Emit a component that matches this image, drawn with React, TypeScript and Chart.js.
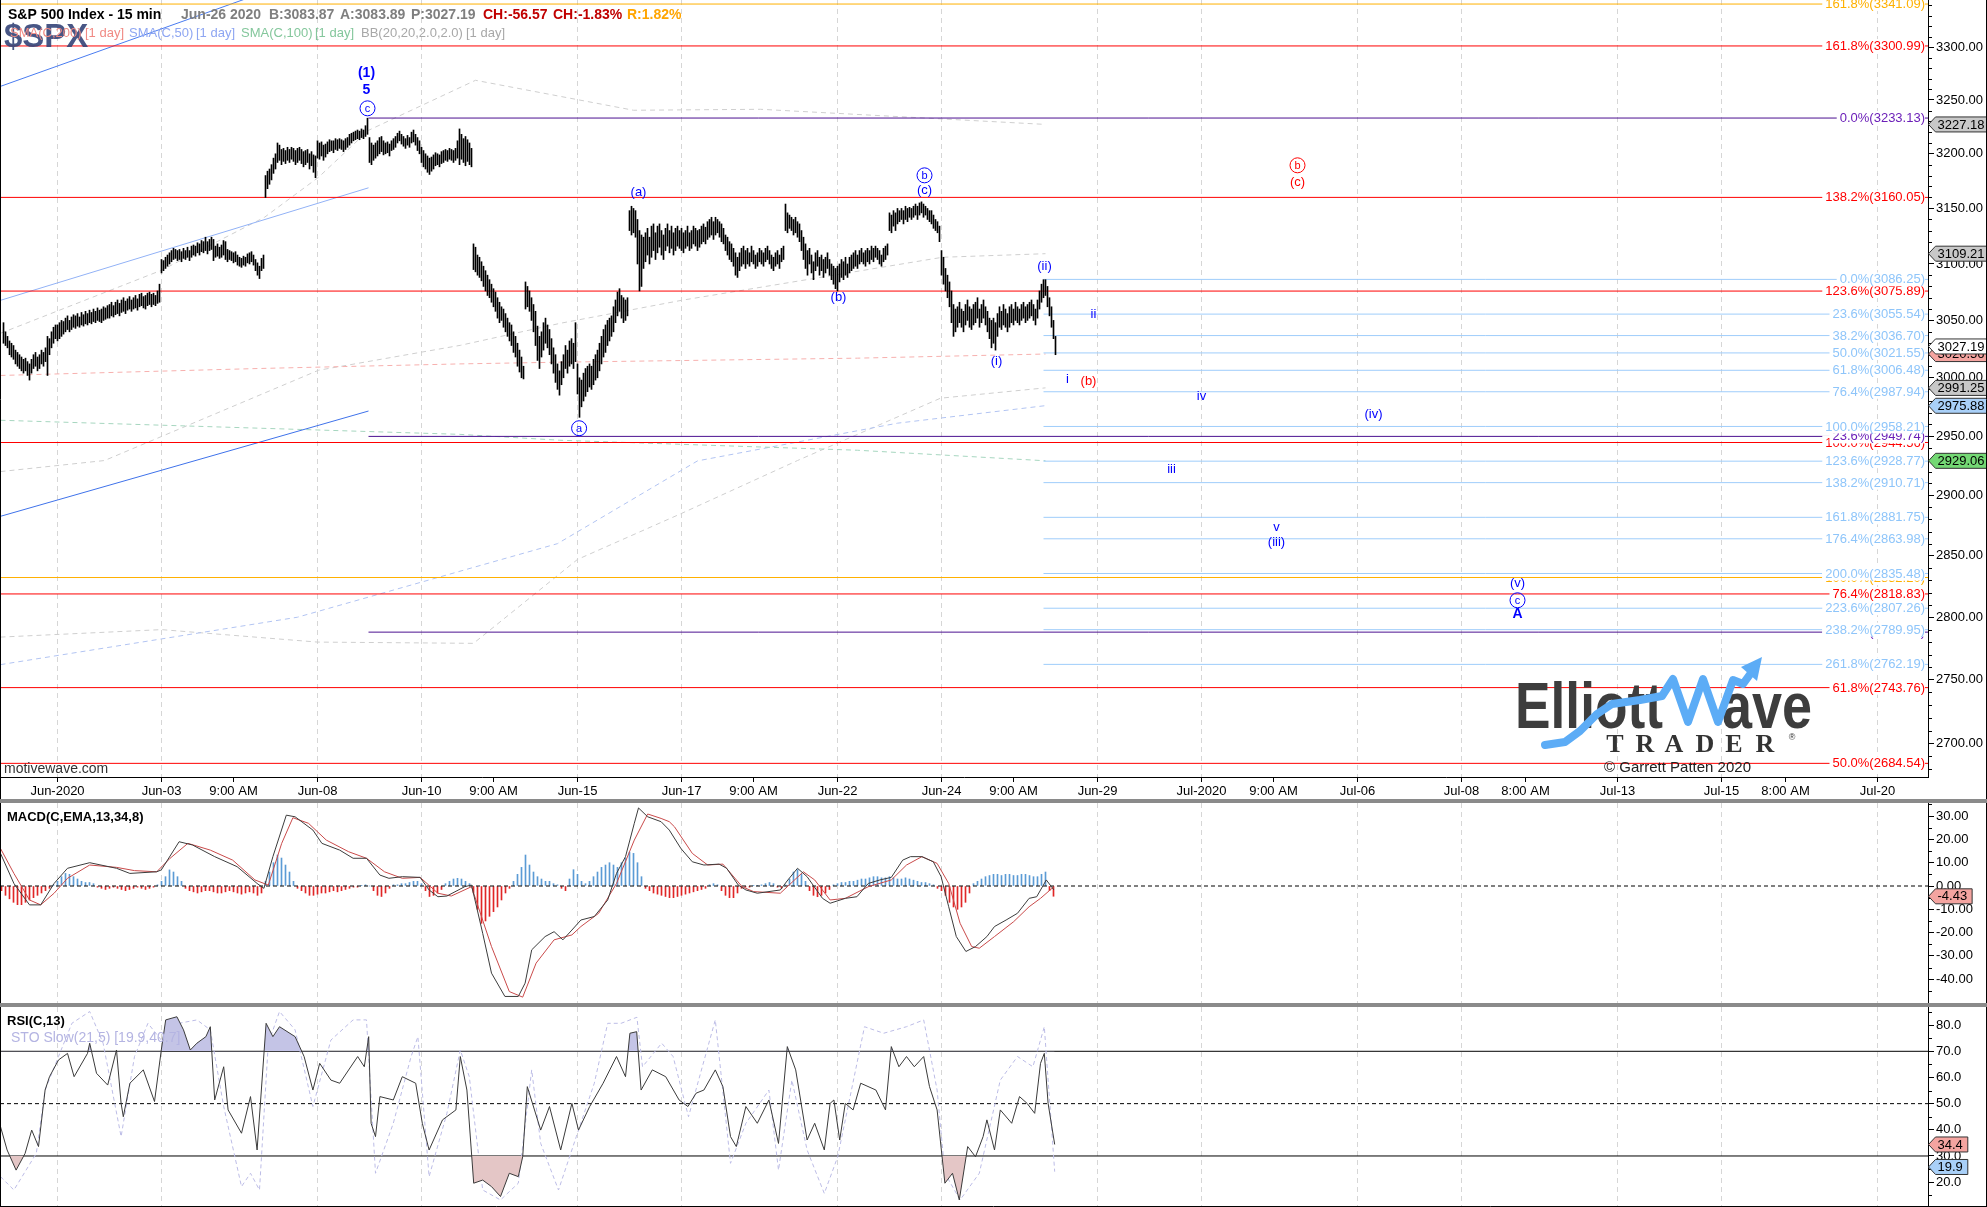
import React, { useEffect, useRef } from 'react';
import { Chart, registerables } from 'chart.js';

Chart.register(...registerables);

const FULL_W = 1987;
const AXIS_W = 59;
const PLOT_R = FULL_W - AXIS_W;
const MAIN_H = 799;
const MACD_TOP = 803;
const MACD_H = 200;
const RSI_TOP = 1007;
const RSI_H = 200;
const SANS = '"Liberation Sans", Arial, Helvetica, sans-serif';
const SERIF = '"Liberation Serif", "Times New Roman", serif';

// ---------- time axis (bar index: 26 fifteen-minute bars per session, 0 = Jun 1 open) ----------
const X_MIN = -28.75;
const X_MAX = 935.25;
const xTickBars = [0, 52, 88, 130, 182, 218, 260, 312, 348, 390, 442, 478, 520, 572, 608, 650, 702, 734, 780, 832, 864, 910];
const xTickLabels = ['Jun-2020', 'Jun-03', '9:00 AM', 'Jun-08', 'Jun-10', '9:00 AM', 'Jun-15', 'Jun-17', '9:00 AM', 'Jun-22', 'Jun-24', '9:00 AM', 'Jun-29', 'Jul-2020', '9:00 AM', 'Jul-06', 'Jul-08', '8:00 AM', 'Jul-13', 'Jul-15', '8:00 AM', 'Jul-20'];
const priceTicks = [2700, 2750, 2800, 2850, 2900, 2950, 3000, 3050, 3100, 3150, 3200, 3250, 3300];
const macdTicks = [-40, -30, -20, -10, 0, 10, 20, 30];
const rsiTicks = [20, 30, 40, 50, 60, 70, 80];

// ---------- price bars [low, high] per session ----------
const sessionOpenBar = [-27, 0, 26, 52, 78, 104, 130, 156, 182, 208, 234, 260, 286, 312, 338, 364, 390, 416, 442, 468, 494];
const may29 = [[3030,3048],[3028,3040],[3026,3036],[3020,3032],[3018,3030],[3016,3028],[3012,3024],[3010,3022],[3008,3020],[3006,3018],[3004,3016],[3006,3017],[3002,3014],[2998,3012],[3004,3016],[3008,3020],[3010,3022],[3006,3018],[3008,3020],[3012,3024],[3010,3022],[3014,3026],[3002,3036],[3020,3034],[3026,3040],[3030,3044],[3034,3046]];
const jun01 = [[3032,3046],[3034,3048],[3036,3050],[3038,3049],[3040,3052],[3042,3054],[3040,3050],[3042,3053],[3044,3055],[3043,3054],[3045,3056],[3044,3053],[3046,3057],[3045,3055],[3047,3058],[3046,3056],[3048,3059],[3047,3057],[3049,3060],[3048,3058],[3050,3061],[3049,3059],[3048,3060],[3050,3062],[3051,3061],[3052,3063]];
const jun02 = [[3052,3064],[3054,3066],[3053,3063],[3055,3066],[3056,3068],[3054,3065],[3057,3068],[3058,3070],[3056,3067],[3059,3069],[3060,3071],[3058,3068],[3060,3070],[3061,3072],[3059,3069],[3062,3073],[3063,3074],[3061,3071],[3060,3072],[3063,3074],[3064,3075],[3062,3073],[3064,3074],[3063,3072],[3065,3076],[3066,3082]];
const jun03 = [[3092,3104],[3094,3103],[3096,3106],[3098,3108],[3100,3110],[3102,3112],[3104,3114],[3105,3113],[3103,3112],[3104,3113],[3102,3111],[3105,3114],[3104,3112],[3106,3115],[3103,3112],[3106,3116],[3108,3117],[3107,3116],[3110,3119],[3108,3118],[3111,3121],[3110,3120],[3112,3124],[3109,3120],[3112,3122],[3113,3124]];
const jun04 = [[3103,3122],[3106,3116],[3107,3118],[3105,3115],[3106,3117],[3108,3121],[3104,3120],[3102,3113],[3104,3112],[3103,3111],[3101,3110],[3102,3111],[3099,3108],[3098,3106],[3097,3105],[3099,3107],[3098,3106],[3101,3109],[3100,3110],[3102,3111],[3099,3108],[3094,3104],[3090,3101],[3087,3098],[3094,3105],[3096,3108]];
const jun05 = [[3160,3180],[3168,3184],[3172,3186],[3176,3190],[3182,3196],[3186,3200],[3192,3210],[3194,3208],[3190,3204],[3193,3205],[3191,3203],[3194,3206],[3192,3204],[3195,3206],[3193,3205],[3190,3203],[3192,3205],[3194,3206],[3191,3204],[3188,3202],[3190,3203],[3192,3204],[3186,3200],[3189,3202],[3183,3199],[3178,3198]];
const jun08 = [[3196,3212],[3195,3210],[3198,3211],[3194,3208],[3197,3209],[3200,3211],[3202,3213],[3203,3212],[3201,3212],[3204,3214],[3203,3213],[3205,3214],[3204,3213],[3202,3212],[3204,3214],[3206,3215],[3208,3218],[3210,3219],[3212,3220],[3213,3221],[3214,3222],[3213,3221],[3215,3223],[3214,3222],[3216,3226],[3218,3233]];
const jun09 = [[3192,3215],[3190,3210],[3194,3208],[3196,3210],[3198,3212],[3200,3215],[3202,3216],[3199,3212],[3200,3210],[3201,3211],[3198,3209],[3203,3212],[3204,3214],[3206,3216],[3210,3219],[3212,3221],[3209,3218],[3207,3216],[3205,3214],[3208,3217],[3206,3215],[3210,3220],[3211,3222],[3208,3218],[3203,3215],[3200,3212]];
const jun10 = [[3192,3206],[3188,3203],[3186,3200],[3183,3198],[3181,3196],[3184,3197],[3186,3199],[3189,3201],[3190,3200],[3188,3199],[3191,3202],[3192,3203],[3194,3204],[3193,3203],[3195,3205],[3194,3204],[3192,3203],[3194,3205],[3196,3212],[3190,3223],[3195,3218],[3192,3214],[3189,3216],[3193,3213],[3190,3210],[3188,3205]];
const jun11 = [[3095,3118],[3093,3115],[3090,3108],[3088,3106],[3085,3102],[3080,3098],[3076,3094],[3072,3090],[3070,3086],[3066,3082],[3062,3078],[3058,3075],[3052,3070],[3048,3066],[3050,3062],[3044,3060],[3040,3056],[3036,3052],[3032,3048],[3028,3046],[3022,3040],[3018,3036],[3010,3030],[3005,3024],[3000,3018],[2999,3010]];
const jun12 = [[3060,3084],[3062,3080],[3058,3076],[3050,3070],[3040,3064],[3028,3058],[3015,3045],[3008,3036],[3018,3040],[3024,3048],[3030,3052],[3026,3046],[3020,3042],[3012,3034],[3004,3026],[2996,3020],[2990,3012],[2985,3006],[2994,3014],[3000,3020],[3008,3028],[3004,3024],[3010,3032],[3012,3034],[3008,3030],[3014,3048]];
const jun15 = [[2986,3012],[2966,3000],[2975,2998],[2980,3004],[2984,3008],[2988,3010],[2992,3012],[2990,3010],[2994,3016],[2998,3020],[3000,3024],[3006,3030],[3012,3036],[3018,3042],[3022,3046],[3028,3050],[3032,3052],[3036,3054],[3040,3062],[3048,3068],[3054,3075],[3058,3078],[3052,3072],[3048,3070],[3050,3068],[3054,3070]];
const jun16 = [[3130,3148],[3126,3152],[3128,3150],[3124,3148],[3100,3140],[3076,3130],[3080,3126],[3096,3124],[3102,3128],[3108,3132],[3100,3124],[3106,3134],[3112,3136],[3104,3128],[3110,3134],[3115,3136],[3108,3130],[3104,3126],[3112,3132],[3116,3136],[3110,3130],[3114,3134],[3108,3128],[3112,3132],[3116,3134],[3114,3130]];
const jun17 = [[3112,3132],[3110,3128],[3114,3130],[3116,3134],[3112,3128],[3114,3130],[3118,3134],[3116,3132],[3112,3130],[3115,3131],[3118,3134],[3120,3136],[3118,3133],[3122,3138],[3124,3140],[3126,3142],[3122,3138],[3126,3142],[3128,3140],[3124,3138],[3120,3136],[3118,3132],[3112,3126],[3108,3124],[3104,3120],[3102,3118]];
const jun18 = [[3098,3114],[3090,3110],[3088,3106],[3094,3110],[3098,3114],[3100,3116],[3096,3112],[3100,3114],[3098,3110],[3102,3116],[3100,3112],[3096,3108],[3098,3110],[3102,3114],[3100,3112],[3098,3110],[3102,3114],[3104,3116],[3100,3112],[3096,3108],[3094,3106],[3098,3110],[3100,3112],[3096,3108],[3102,3114],[3104,3116]];
const jun19 = [[3130,3154],[3128,3146],[3132,3144],[3130,3142],[3126,3140],[3128,3142],[3124,3138],[3120,3136],[3112,3130],[3104,3124],[3096,3118],[3090,3112],[3100,3114],[3092,3108],[3086,3102],[3094,3110],[3098,3112],[3090,3106],[3094,3108],[3088,3104],[3092,3106],[3096,3110],[3090,3104],[3086,3100],[3082,3098],[3078,3096]];
const jun22 = [[3076,3098],[3084,3100],[3088,3104],[3086,3102],[3090,3106],[3088,3100],[3092,3106],[3094,3108],[3096,3110],[3098,3112],[3096,3108],[3100,3112],[3102,3114],[3100,3110],[3098,3112],[3102,3114],[3100,3112],[3104,3116],[3102,3114],[3106,3116],[3104,3114],[3100,3112],[3098,3108],[3102,3114],[3104,3116],[3108,3118]];
const jun23 = [[3130,3146],[3128,3144],[3134,3148],[3130,3146],[3136,3150],[3138,3148],[3140,3150],[3136,3148],[3140,3152],[3138,3150],[3142,3151],[3140,3150],[3142,3152],[3144,3154],[3140,3152],[3144,3155],[3146,3156],[3142,3154],[3144,3152],[3140,3150],[3138,3148],[3136,3148],[3132,3144],[3130,3140],[3128,3138],[3120,3134]];
const jun24 = [[3090,3112],[3082,3106],[3076,3096],[3070,3090],[3062,3084],[3048,3076],[3036,3064],[3040,3060],[3044,3062],[3048,3066],[3044,3060],[3040,3058],[3046,3064],[3050,3068],[3044,3062],[3042,3060],[3046,3064],[3048,3066],[3052,3070],[3044,3060],[3048,3064],[3052,3068],[3046,3062],[3040,3058],[3034,3052],[3026,3050]];
const jun25 = [[3030,3052],[3024,3048],[3036,3056],[3044,3062],[3042,3058],[3046,3064],[3044,3060],[3040,3056],[3044,3062],[3048,3064],[3046,3060],[3050,3066],[3048,3062],[3046,3060],[3050,3064],[3052,3066],[3048,3062],[3050,3064],[3052,3066],[3054,3068],[3050,3064],[3046,3060],[3052,3068],[3060,3076],[3066,3082],[3070,3086]];
const jun26 = [[3072,3086],[3062,3080],[3054,3070],[3044,3062],[3034,3050],[3020,3036]];
const sessions = [may29, jun01, jun02, jun03, jun04, jun05, jun08, jun09, jun10, jun11, jun12, jun15, jun16, jun17, jun18, jun19, jun22, jun23, jun24, jun25, jun26];

// ---------- daily overlays [bar, value] ----------
const sma200 = [[-28.5,3002],[100,3008],[201,3012],[251,3013.5],[400,3017],[494,3020.6]];
const sma100 = [[-28.5,2963.5],[201,2951.5],[251,2946.5],[400,2938],[494,2929.1]];
const sma50 = [[-28.5,2762],[120,2800],[250,2860],[320,2929],[420,2961],[494,2976]];
const bbUpper = [[-28.5,3038.7],[52,3094.4],[103.5,3142],[130.5,3178.4],[155.5,3221.7],[209,3268.5],[288,3240.4],[351.5,3241.3],[494,3227.2]];
const bbMiddle = [[-28.5,2920],[23.5,2929.3],[130.5,3006.5],[201.5,3028.2],[251.5,3047.5],[312,3067.7],[442.5,3106],[494,3109.2]];
const bbLower = [[-28.5,2784],[52,2790],[130,2780],[208,2779],[260,2847],[312,2885],[370,2929.3],[441.5,2982.4],[494,2991.3]];
const trendA = [[-28.5,3262.8],[155.5,3388.7]];
const trendB = [[-28.5,3067.7],[155.5,3168.8]];
const trendC = [[-28.5,2882.6],[155.5,2971.4]];

// ---------- Fibonacci levels ----------
const orangeLevels = [3341.09, 2832.2];
const orangePct = ['161.8', '100.0'];
const redLevels = [3300.99, 3160.05, 3075.89, 2944.56, 2818.83, 2743.76, 2684.54];
const redPct = ['161.8', '138.2', '123.6', '100.0', '76.4', '61.8', '50.0'];
const purpleLevels = [3233.13, 2949.74, 2787.99];
const purplePct = ['0.0', '23.6', '161.8'];
const purpleStartBar = 155.5;
const blueLevels = [3086.25, 3055.54, 3036.70, 3021.55, 3006.48, 2987.94, 2958.21, 2928.77, 2910.71, 2881.75, 2863.98, 2835.48, 2807.26, 2789.95, 2762.19];
const bluePct = ['0.0', '23.6', '38.2', '50.0', '61.8', '76.4', '100.0', '123.6', '138.2', '161.8', '176.4', '200.0', '223.6', '238.2', '261.8'];
const blueStartBar = 493;

// ---------- wave labels ----------
const waveText = ['(1)','5','c','(a)','a','(b)','b','(c)','(i)','(ii)','ii','i','(b)','iv','(iv)','iii','v','(iii)','b','(c)','(v)','c','A'];
const waveBar = [154.5,154.5,155,290.5,260.8,390.5,433.5,433.5,469.5,493.5,518,505,515.5,572,658,557,609.5,609.5,620,620,730,730,730];
const wavePrice = [3275.1,3259,3242.2,3164.7,2956.7,3070.4,3180.2,3166.5,3014.3,3097.9,3055.4,2998.7,2997,2984,2968.6,2922,2873.6,2861.2,3189.4,3173.8,2827.5,2813.7,2802.4];
const waveKind = ['b','b','c','p','c','p','c','p','p','p','p','p','p','p','p','p','p','p','c','p','p','c','b'];
const waveRed = [0,0,0,0,0,0,0,0,0,0,0,0,1,0,0,0,0,0,1,1,0,0,0];

// ---------- last-value tags ----------
const mainTagValues = [3227.18, 3109.21, 3020.56, 3027.19, 2991.25, 2975.88, 2929.06];
const mainTagColors = ['#c8c8c8', '#c8c8c8', '#f4a4a0', '#ffffff', '#c8c8c8', '#a9d0f8', '#74d874'];

// ---------- MACD(C,EMA,13,34,8) ----------
const macdLine = [[-28.5,14],[-21.8,1.1],[-14,-8.1],[-8.4,-8.1],[-1.7,1.1],[5,7.6],[16.1,10],[29.5,7.6],[36.2,5.4],[49.6,6.1],[51.9,6.9],[60.8,19],[67.5,17.6],[78.6,12.6],[89.8,8.3],[99.8,1.1],[103.2,-1],[107.7,12.6],[114.4,30.4],[118.8,29.7],[127.7,24],[132.2,18.3],[141.1,15.4],[147.8,11.9],[154.5,11.9],[161.2,4.7],[165.7,3.3],[172.4,4],[181.3,3.7],[185.8,-1.7],[190.2,-4.6],[194.7,-4.3],[203.6,-0.3],[207,0.4],[212.6,-20.3],[217,-37.4],[223.7,-47.4],[230.4,-47.4],[233.8,-41.7],[237.1,-27.4],[243.8,-21.7],[248.3,-19.6],[252.7,-23.1],[257.2,-18.9],[261.7,-14.6],[268.4,-13.1],[275.1,-6],[279.5,5.4],[284,12.6],[288.4,26.9],[290.5,33.5],[295.1,29.7],[301.8,27.6],[305.9,24],[311.7,16.1],[317.4,10.4],[323.2,9],[330.8,9.4],[334.6,7.6],[340.4,0.4],[344.2,-1.7],[349.9,-3.1],[361.4,-1.7],[365.2,2.6],[370,7.6],[374.8,4],[382.5,-5.3],[386.3,-7.4],[393.9,-5.3],[399.7,-4.6],[405.4,1.1],[411.2,2.6],[416.9,3.7],[422.6,11.1],[426.5,12.6],[432.2,12.6],[437.9,10.4],[441.8,4],[445.6,-8.9],[449.4,-21.7],[454.2,-28.1],[459,-26],[464.7,-21.7],[468.5,-17.4],[474.3,-14.6],[480,-11.7],[485.8,-5.3],[489.6,-4.6],[494.4,2.6],[498.2,-1.7]];
const macdSignal = [[-28.5,16.1],[-21.8,5.4],[-14,-6],[-8.4,-8.1],[-1.7,-3.1],[5,3.3],[16.1,9],[29.5,8],[38.5,6.6],[49.6,6.1],[56.3,11.9],[65.2,18.3],[76.4,15.4],[87.6,11.1],[98.7,2.6],[105.4,0.4],[112.1,18.3],[117.7,29.3],[125.5,26.9],[134.4,19.7],[145.6,14.7],[154.5,11.9],[163.5,6.1],[172.4,3.3],[181.3,3.7],[190.2,-3.1],[196.9,-4.3],[207,-0.3],[217,-26],[225.9,-45.3],[232.6,-47.7],[239.3,-33.1],[248.3,-23.1],[257.2,-21],[261.7,-17.4],[270.6,-11.7],[279.5,1.1],[288.4,19.7],[295.1,30.9],[301.8,29],[305.9,27.6],[308.5,25.4],[317.4,14],[325.1,9],[332.7,9.4],[342.3,-0.3],[348,-2.4],[361.4,-3.1],[372.9,6.1],[378.6,2.6],[386.3,-6],[393.9,-5.3],[405.4,-0.3],[416.9,2.6],[424.5,9],[432.2,12.6],[439.8,9.7],[445.6,1.1],[451.3,-16],[457.1,-26],[460.9,-26.7],[468.5,-21.7],[478.1,-15.3],[485.8,-8.9],[491.5,-5.3],[498.2,-0.3]];
const macdHistFirstBar = -28;
const macdHist = [-2,-4,-5.5,-7,-8,-8,-7,-6, -5,-4,-3,-2,-1, 0.5,2,4,5.4,5,4,3, 2,1.5,1.5,1,
  -0.5,-1,-1.5,-1,-0.5,-1,-1.5,-2,-1.5,-1,-0.5,-1,-1.5,-1,-0.5,0.5, 2,4,6.9,6,4,2,
  -1,-2,-2.5,-3,-2.5,-2,-2,-2.5,-3,-3,-2.5,-2,-2.5,-3,-3.5,-3,-2.5,-3,-4,-3, 2,6,10,13.3,12,9,6,2,
  -1,-2,-3,-4,-4,-3.5,-3,-3,-2.5,-2,-2.5,-2,-1.5,-1,-0.5,-0.5, 0.3,0.5,0, -2,-4,-4.5,-3,-1, 0.5,0.5,1,1,1.5, 2,2,1,
  -2,-4.5,-4,-3,-1.5, 1,2,3,3.3,3,2,1, -3,-10,-16,-15,-13,-11,-9,-6,-3,-1, 2,5,8,13.3,9,6,4,3,2,2,1, 0.5,-1,-2, 3,7,5,2,
  1,2,4,6,8,9,10,9,8,10,12,14.5,14,10,4, -1,-2,-3,-3.5,-4,-4.5,-5,-5,-4.5,-4,-3.5,-3,-2.5,-2,-1.5,-1, 0.5,1,0.5,
  -2,-4,-5,-5,-3,-1, -0.5,-0.5,0.3,0.3,0.5, 1,1.5,1, -0.5,-1,0.5, 3,6,7,5,2, -2,-4,-4.6,-4,-3,-1.5,
  0.5,1,1.5,1.5,2,2,2.5,3,3,3.5,4,4,3.5,3.5,4,3.5,3,3,3.5,3,2.5,2,1.5,1.5,1,0.5, -1,-2,-4,-7,-9,-10,-9,-7,-3,
  1,2,3,4,4.5,5,5,4.5,5,5,4.5,4.5,5,5,4.5,4,4,5,6, -2,-4.4];

// ---------- RSI(C,13) and STO Slow(21,5) ----------
const rsiLine = [[-28.5,41.2],[-25.2,32.3],[-20.7,24.6],[-16.2,31],[-12.9,39.9],[-9.5,33.6],[-6.2,55.2],[-4,60.3],[0.5,66.7],[5,69.2],[8.3,60.3],[15,69.2],[16.1,73.1],[19.5,61.6],[25.1,57.1],[29.5,70.5],[31.8,50.1],[32.9,45],[36.2,57.8],[42.9,62.9],[48.5,50.8],[51.9,70.5],[54.1,82],[59.7,83.2],[63,78.2],[66.4,70.5],[69.7,73.1],[74.2,75.6],[76.4,79.4],[78.6,51.4],[83.1,64.1],[85.3,47.6],[92,38.7],[96.5,52.7],[99.8,32.3],[104.3,80.7],[107.7,75.6],[111,79.4],[118.8,75.6],[123.3,68],[127.7,55.2],[131.1,65.4],[136.7,59],[141.1,57.8],[150.1,68],[153.4,64.1],[155.6,75.6],[156.8,42.5],[159,37.4],[161.2,52.7],[167.9,51.4],[172.4,60.3],[179.1,57.8],[182.4,42.5],[185.8,32.3],[192.5,43.8],[199.2,47.6],[201.4,68],[204.7,55.2],[208.1,19.6],[212.6,20.8],[217,18.3],[221.5,14.5],[225.9,23.4],[230.4,22.1],[232.6,29.7],[234.9,56.5],[241.6,39.9],[246,48.9],[251.6,32.3],[257.2,50.1],[260.5,39.9],[266.1,48.9],[272.8,57.8],[279.5,68],[284,60.3],[286.2,76.9],[289.6,77.5],[291.8,55.2],[297.4,62.9],[304.1,60.3],[310.8,51.4],[315.2,48.9],[319.3,54],[323.2,55.2],[328.9,62.9],[332.7,56.5],[336.5,37.4],[339.4,33.6],[344.2,48.9],[349.9,42.5],[355.7,51.4],[360.5,34.8],[364.9,71.8],[369.1,62.9],[374.8,36.1],[378.6,42.5],[383.4,32.3],[386.3,50.1],[388.2,51.4],[391.1,36.1],[393.9,50.1],[397.8,47.6],[401.6,57.8],[409.2,55.2],[414,47.6],[416.9,71.8],[420.7,64.1],[424.5,68],[428.4,64.1],[433.1,68],[436,56.5],[439.8,47.6],[443.7,19.6],[447.5,23.4],[450.9,13.2],[455.1,33.6],[459,29.7],[462.8,37.4],[464.7,43.8],[468.5,32.3],[471.4,47.6],[477.1,42.5],[481,52.7],[484.8,50.1],[488.6,46.3],[491.5,65.4],[493.4,69.2],[495.3,50.1],[498.6,34.4]];
const stoLine = [[-28.5,22.1],[-21.8,17],[-10.6,31],[-6.2,55.2],[0.5,68],[7.2,80.7],[16.1,85.2],[22.8,73.1],[31.8,37.4],[38.5,68],[45.2,80.7],[51.9,74.3],[60.8,80.7],[69.7,82],[76.4,78.2],[83.1,48.9],[92,18.3],[96.5,23.4],[101,17],[105.4,73.1],[111,85.2],[118.8,78.2],[127.7,48.9],[136.7,74.3],[147.8,82],[154.5,82],[159,23.4],[167.9,42.5],[176.8,68],[180.2,75.6],[185.8,22.1],[194.7,46.3],[201.4,70.5],[205.9,60.3],[212.6,17],[221.5,13.2],[230.4,19.6],[237.1,62.9],[241.6,34.8],[250.5,17],[259.4,37.4],[268.4,57.8],[275.1,80.7],[281.8,80.7],[289.7,83],[292.5,64.1],[302.1,73.1],[307.8,68],[315.5,45],[328.9,82],[336.5,27.2],[344.2,42.5],[355.7,55.2],[360.5,24.6],[367.2,59],[374.8,32.3],[383.4,15.7],[390.1,29.7],[403.5,79.4],[413.1,76.9],[424.5,79.4],[433.1,82],[439.8,55.2],[443.7,23.4],[451.3,13.2],[460.9,23.4],[471.4,59],[480,68],[487.7,64.1],[493.4,79.4],[498.6,24]];

// ---------- helpers ----------
const toXY = (pairs: number[][]) => pairs.map(([x, y]) => ({ x, y }));
const isDateTick = (v: number) => {
  const k = xTickBars.indexOf(v);
  return k >= 0 && !xTickLabels[k].includes('AM');
};
const lineDs = (pairs: number[][], color: string, dash: number[] = [], width = 1) => ({
  type: 'line', data: toXY(pairs), borderColor: color, borderWidth: width, borderDash: dash,
  pointRadius: 0, tension: 0, fill: false,
});

function xScaleCfg(showLabels: boolean, height: number) {
  return {
    type: 'linear', min: X_MIN, max: X_MAX, offset: false, position: 'bottom',
    afterBuildTicks: (s: any) => { s.ticks = xTickBars.map((v) => ({ value: v })); },
    afterFit: (s: any) => { s.height = height; s.paddingLeft = 0; s.paddingRight = 0; s.paddingTop = 0; s.paddingBottom = 0; },
    ticks: {
      display: showLabels, autoSkip: false, maxRotation: 0, minRotation: 0, padding: 2, color: '#000',
      font: { family: SANS, size: 13 },
      callback: (v: any) => { const k = xTickBars.indexOf(Number(v)); return k >= 0 ? xTickLabels[k] : ''; },
    },
    grid: {
      display: true, drawOnChartArea: true, offset: false, drawTicks: showLabels, tickLength: 5, tickColor: '#000',
      color: (c: any) => (c.tick && isDateTick(c.tick.value) ? '#d6d6d6' : 'rgba(0,0,0,0)'), lineWidth: 1,
    },
    border: { display: showLabels, color: '#000', width: 1, dash: [5, 4] },
  };
}

function yScaleCfg(type: string, min: number, max: number, ticks: number[], digits: number) {
  return {
    type, position: 'right', min, max,
    afterBuildTicks: (s: any) => { s.ticks = ticks.map((v) => ({ value: v })); },
    afterFit: (s: any) => { s.width = AXIS_W; s.paddingTop = 0; s.paddingBottom = 0; s.paddingLeft = 0; s.paddingRight = 0; },
    ticks: { padding: 2, color: '#000', font: { family: SANS, size: 13 }, callback: (v: any) => Number(v).toFixed(digits) },
    grid: { drawOnChartArea: false, drawTicks: true, tickLength: 6, tickColor: '#000' },
    border: { display: true, color: '#000', width: 1 },
  };
}

function drawTag(ctx: any, y: number, text: string, fill: string) {
  ctx.save();
  ctx.font = `13px ${SANS}`;
  const w = ctx.measureText(text).width + 14;
  const x0 = PLOT_R + 0.5;
  ctx.beginPath();
  ctx.moveTo(x0, y);
  ctx.lineTo(x0 + 7, y - 7.5);
  ctx.lineTo(x0 + w, y - 7.5);
  ctx.lineTo(x0 + w, y + 7.5);
  ctx.lineTo(x0 + 7, y + 7.5);
  ctx.closePath();
  ctx.fillStyle = fill;
  ctx.fill();
  ctx.strokeStyle = '#333';
  ctx.lineWidth = 1;
  ctx.stroke();
  ctx.fillStyle = '#000';
  ctx.textAlign = 'left';
  ctx.textBaseline = 'middle';
  ctx.fillText(text, x0 + 9, y + 0.5);
  ctx.restore();
}

function drawMinorTicks(ctx: any, scale: any, from: number, to: number, step: number, major: number) {
  ctx.save();
  ctx.strokeStyle = '#000';
  ctx.lineWidth = 1;
  for (let v = from; v <= to + 1e-9; v += step) {
    if (Math.abs(v / major - Math.round(v / major)) < 1e-6) continue;
    const y = Math.round(scale.getPixelForValue(v)) + 0.5;
    if (y < 0 || y > scale.bottom) continue;
    ctx.beginPath();
    ctx.moveTo(PLOT_R, y);
    ctx.lineTo(PLOT_R + 4, y);
    ctx.stroke();
  }
  ctx.restore();
}

function drawFrame(ctx: any, h: number) {
  ctx.save();
  ctx.strokeStyle = '#000';
  ctx.lineWidth = 1;
  ctx.beginPath();
  ctx.moveTo(0.5, 0); ctx.lineTo(0.5, h);
  ctx.moveTo(FULL_W - 0.5, 0); ctx.lineTo(FULL_W - 0.5, h);
  ctx.stroke();
  ctx.restore();
}

function fibLabel(ctx: any, text: string, y: number, color: string) {
  ctx.font = `13px ${SANS}`;
  const w = ctx.measureText(text).width;
  const right = 1925;
  ctx.fillStyle = '#fff';
  ctx.fillRect(right - w - 3, y - 7, w + 3, 14);
  ctx.fillStyle = color;
  ctx.textAlign = 'left';
  ctx.textBaseline = 'middle';
  ctx.fillText(text, right - w, y + 0.5);
}

function drawLogo(ctx: any) {
  ctx.save();
  ctx.fillStyle = '#3d3d3d';
  ctx.font = `bold 65px ${SANS}`;
  ctx.textAlign = 'left';
  ctx.textBaseline = 'alphabetic';
  let w = ctx.measureText('Elliott').width;
  ctx.save(); ctx.translate(1515, 728); ctx.scale(148 / w, 1); ctx.fillText('Elliott', 0, 0); ctx.restore();
  w = ctx.measureText('ave').width;
  ctx.save(); ctx.translate(1722, 728); ctx.scale(90 / w, 1); ctx.fillText('ave', 0, 0); ctx.restore();
  ctx.strokeStyle = '#5cacf6';
  ctx.lineWidth = 8;
  ctx.lineCap = 'round';
  ctx.lineJoin = 'round';
  const pts = [[1545,745],[1565,742],[1580,731],[1597,714],[1612,704],[1640,700],[1662,696],[1673,679],[1688,722],[1703,679],[1718,722],[1733,680],[1743,684],[1751,673]];
  ctx.beginPath();
  pts.forEach(([x, y], k) => (k ? ctx.lineTo(x, y) : ctx.moveTo(x, y)));
  ctx.stroke();
  ctx.fillStyle = '#5cacf6';
  ctx.beginPath();
  ctx.moveTo(1762, 657); ctx.lineTo(1741, 667); ctx.lineTo(1757, 681); ctx.closePath();
  ctx.fill();
  ctx.fillStyle = '#333';
  ctx.font = `bold 26px ${SERIF}`;
  ctx.textAlign = 'center';
  [['T', 1615], ['R', 1645], ['A', 1674], ['D', 1705], ['E', 1734], ['R', 1765]].forEach(([c, x]: any) => ctx.fillText(c, x, 752));
  ctx.font = `9px ${SANS}`;
  ctx.fillText('®', 1792, 740);
  ctx.textAlign = 'left';
  ctx.font = `15px ${SANS}`;
  ctx.fillStyle = '#222';
  ctx.fillText('© Garrett Patten 2020', 1604, 772);
  ctx.restore();
}

function drawWaveLabel(ctx: any, x: number, y: number, text: string, kind: string, color: string) {
  ctx.save();
  ctx.fillStyle = color;
  ctx.strokeStyle = color;
  ctx.textAlign = 'center';
  ctx.textBaseline = 'middle';
  if (kind === 'c') {
    ctx.lineWidth = 1;
    ctx.beginPath();
    ctx.arc(x, y, 7.5, 0, Math.PI * 2);
    ctx.stroke();
    ctx.font = `11px ${SANS}`;
    ctx.fillText(text, x, y + 0.5);
  } else {
    ctx.font = kind === 'b' ? `bold 14px ${SANS}` : `13px ${SANS}`;
    ctx.fillText(text, x, y);
  }
  ctx.restore();
}

const titleParts = ['S&P 500 Index - 15 min', 'Jun-26 2020', 'B:3083.87', 'A:3083.89', 'P:3027.19', 'CH:-56.57', 'CH:-1.83%', 'R:1.82%'];
const titleColors = ['#000', '#7f7f7f', '#7f7f7f', '#7f7f7f', '#7f7f7f', '#c00000', '#c00000', '#ffa500'];
const titleX = [8, 181, 269, 340, 411, 483, 553, 627];
const studyParts = ['SMA(C,200)', '[1 day]', 'SMA(C,50)', '[1 day]', 'SMA(C,100)', '[1 day]', 'BB(20,20,2.0,2.0)', '[1 day]'];
const studyColors = ['#f08a84', '#f08a84', '#8ea6f2', '#8ea6f2', '#84c79c', '#84c79c', '#a8a8a8', '#a8a8a8'];
const studyX = [10, 85, 129, 196, 241, 315, 361, 466];

const mainOverlay = {
  id: 'mainOverlay',
  afterDatasetsDraw(chart: any) {
    const { ctx, chartArea: a } = chart;
    const xs = chart.scales.x;
    const ys = chart.scales.y;
    ctx.save();
    ctx.beginPath();
    ctx.rect(a.left, a.top, a.right - a.left, a.bottom - a.top);
    ctx.clip();
    drawLogo(ctx);
    orangeLevels.forEach((v, k) => fibLabel(ctx, `${orangePct[k]}%(${v.toFixed(2)})`, ys.getPixelForValue(v), '#ffb000'));
    redLevels.forEach((v, k) => fibLabel(ctx, `${redPct[k]}%(${v.toFixed(2)})`, ys.getPixelForValue(v), '#ff0000'));
    purpleLevels.forEach((v, k) => fibLabel(ctx, `${purplePct[k]}%(${v.toFixed(2)})`, ys.getPixelForValue(v), '#6b1fb8'));
    blueLevels.forEach((v, k) => fibLabel(ctx, `${bluePct[k]}%(${v.toFixed(2)})`, ys.getPixelForValue(v), '#8ec5fa'));
    waveText.forEach((t, k) => {
      const col = waveRed[k] ? '#ff0000' : '#0000ff';
      drawWaveLabel(ctx, xs.getPixelForValue(waveBar[k]), ys.getPixelForValue(wavePrice[k]), t, waveKind[k], col);
    });
    ctx.fillStyle = '#333';
    ctx.font = `14px ${SANS}`;
    ctx.textAlign = 'left';
    ctx.textBaseline = 'alphabetic';
    ctx.fillText('motivewave.com', 4, 773);
    ctx.restore();
  },
  afterDraw(chart: any) {
    const { ctx } = chart;
    const ys = chart.scales.y;
    drawMinorTicks(ctx, ys, 2680, 3340, 10, 50);
    mainTagValues.forEach((v, k) => drawTag(ctx, ys.getPixelForValue(v), v.toFixed(2), mainTagColors[k]));
    ctx.save();
    ctx.textAlign = 'left';
    ctx.textBaseline = 'alphabetic';
    ctx.font = `bold 33px ${SANS}`;
    ctx.fillStyle = 'rgba(52,68,120,0.9)';
    ctx.fillText('$SPX', 4, 47);
    ctx.font = `bold 14px ${SANS}`;
    titleParts.forEach((t, k) => { ctx.fillStyle = titleColors[k]; ctx.fillText(t, titleX[k], 19); });
    ctx.font = `13px ${SANS}`;
    studyParts.forEach((t, k) => { ctx.fillStyle = studyColors[k]; ctx.fillText(t, studyX[k], 37); });
    ctx.restore();
    drawFrame(ctx, MAIN_H);
  },
};

const macdOverlay = {
  id: 'macdOverlay',
  afterDraw(chart: any) {
    const { ctx } = chart;
    const ys = chart.scales.y;
    drawMinorTicks(ctx, ys, -50, 35, 5, 10);
    drawTag(ctx, ys.getPixelForValue(-4.43), '-4.43', '#f4a4a0');
    ctx.save();
    ctx.font = `bold 13px ${SANS}`;
    ctx.fillStyle = '#000';
    ctx.textAlign = 'left';
    ctx.textBaseline = 'alphabetic';
    ctx.fillText('MACD(C,EMA,13,34,8)', 7, 18);
    ctx.restore();
    drawFrame(ctx, MACD_H);
  },
};

const rsiOverlay = {
  id: 'rsiOverlay',
  afterDraw(chart: any) {
    const { ctx } = chart;
    const ys = chart.scales.y;
    drawMinorTicks(ctx, ys, 15, 85, 5, 10);
    drawTag(ctx, ys.getPixelForValue(34.4), '34.4', '#f4a4a0');
    drawTag(ctx, ys.getPixelForValue(25.8), '19.9', '#a9d0f8');
    ctx.save();
    ctx.textAlign = 'left';
    ctx.textBaseline = 'alphabetic';
    ctx.font = `bold 13px ${SANS}`;
    ctx.fillStyle = '#000';
    ctx.fillText('RSI(C,13)', 7, 18);
    ctx.font = `14px ${SANS}`;
    ctx.fillStyle = '#b4b4e2';
    ctx.fillText('STO Slow(21,5) [19.9,40.7]', 11, 35);
    ctx.restore();
    drawFrame(ctx, RSI_H);
    ctx.save();
    ctx.strokeStyle = '#000';
    ctx.beginPath();
    ctx.moveTo(0, RSI_H - 0.5);
    ctx.lineTo(FULL_W, RSI_H - 0.5);
    ctx.stroke();
    ctx.restore();
  },
};

const baseOptions = {
  animation: false,
  responsive: false,
  maintainAspectRatio: false,
  devicePixelRatio: 1,
  events: [],
  layout: { padding: 0, autoPadding: false },
  plugins: { legend: { display: false }, tooltip: { enabled: false }, title: { display: false } },
};

export default function App() {
  const mainRef = useRef<HTMLCanvasElement>(null);
  const macdRef = useRef<HTMLCanvasElement>(null);
  const rsiRef = useRef<HTMLCanvasElement>(null);

  useEffect(() => {
    document.body.style.margin = '0';
    const barData: any[] = [];
    sessions.forEach((s, k) => s.forEach((b, j) => barData.push({ x: sessionOpenBar[k] + j, y: [b[0], b[1]] })));

    const fibDatasets: any[] = [];
    orangeLevels.forEach((v) => fibDatasets.push(lineDs([[X_MIN, v], [X_MAX, v]], '#ffb000')));
    redLevels.forEach((v) => fibDatasets.push(lineDs([[X_MIN, v], [X_MAX, v]], '#ff0000')));
    purpleLevels.forEach((v) => fibDatasets.push(lineDs([[purpleStartBar, v], [X_MAX, v]], '#4b1090')));
    blueLevels.forEach((v) => fibDatasets.push(lineDs([[blueStartBar, v], [X_MAX, v]], '#9fcdfb')));

    const main = new Chart(mainRef.current as any, {
      type: 'line',
      data: {
        datasets: [
          { type: 'bar', data: barData, backgroundColor: '#000', borderWidth: 0, barThickness: 1 } as any,
          ...fibDatasets,
          lineDs(trendA, '#4a7cf0'),
          lineDs(trendB, '#92b2f6'),
          lineDs(trendC, '#3f72ea'),
          lineDs(sma200, '#f7b0ae', [5, 4]),
          lineDs(sma100, '#a6d6bf', [5, 4]),
          lineDs(sma50, '#b2c4f2', [5, 4]),
          lineDs(bbUpper, '#cfcfcf', [5, 4]),
          lineDs(bbMiddle, '#cfcfcf', [5, 4]),
          lineDs(bbLower, '#cfcfcf', [5, 4]),
        ],
      },
      options: {
        ...baseOptions,
        scales: {
          x: xScaleCfg(true, MAIN_H - 777),
          y: yScaleCfg('logarithmic', 2674, 3345, priceTicks, 2),
        },
      } as any,
      plugins: [mainOverlay],
    });

    const histData = macdHist.map((v, k) => ({ x: macdHistFirstBar + 2 * k, y: v }));
    const macd = new Chart(macdRef.current as any, {
      type: 'line',
      data: {
        datasets: [
          lineDs(macdLine, '#3c3c3c'),
          lineDs(macdSignal, '#c94a4a'),
          lineDs([[X_MIN, 0], [X_MAX, 0]], '#000', [4, 3]),
          { type: 'bar', data: histData, barThickness: 1, borderWidth: 0,
            backgroundColor: (c: any) => (c.raw && c.raw.y >= 0 ? '#5b9bd5' : '#e02626') } as any,
        ],
      },
      options: {
        ...baseOptions,
        scales: {
          x: xScaleCfg(false, 0),
          y: yScaleCfg('linear', -50.21, 35.62, macdTicks, 2),
        },
      } as any,
      plugins: [macdOverlay],
    });

    const rsi = new Chart(rsiRef.current as any, {
      type: 'line',
      data: {
        datasets: [
          { ...lineDs(rsiLine, '#3a3a3a'), fill: { target: { value: 70 }, above: 'rgba(196,196,230,1)', below: 'rgba(0,0,0,0)' } },
          { ...lineDs(rsiLine, 'rgba(0,0,0,0)', [], 0), fill: { target: { value: 30 }, above: 'rgba(0,0,0,0)', below: 'rgba(228,198,198,1)' } },
          lineDs(stoLine, '#bcbce6', [4, 3]),
          lineDs([[X_MIN, 70], [X_MAX, 70]], '#000'),
          lineDs([[X_MIN, 30], [X_MAX, 30]], '#000'),
          lineDs([[X_MIN, 50], [X_MAX, 50]], '#000', [4, 3]),
        ] as any,
      },
      options: {
        ...baseOptions,
        scales: {
          x: xScaleCfg(false, 1),
          y: yScaleCfg('linear', 10.89, 86.93, rsiTicks, 1),
        },
      } as any,
      plugins: [rsiOverlay],
    });

    return () => { main.destroy(); macd.destroy(); rsi.destroy(); };
  }, []);

  const abs = (top: number, h: number): React.CSSProperties => ({ position: 'absolute', left: 0, top, width: FULL_W, height: h, display: 'block' });
  return (
    <div style={{ position: 'absolute', left: 0, top: 0, width: FULL_W, height: 1207, background: '#fff', overflow: 'hidden' }}>
      <canvas ref={mainRef} width={FULL_W} height={MAIN_H} style={abs(0, MAIN_H)} />
      <div style={{ ...abs(MAIN_H, MACD_TOP - MAIN_H), background: '#8a8a8a' }} />
      <canvas ref={macdRef} width={FULL_W} height={MACD_H} style={abs(MACD_TOP, MACD_H)} />
      <div style={{ ...abs(MACD_TOP + MACD_H, RSI_TOP - MACD_TOP - MACD_H), background: '#8a8a8a' }} />
      <canvas ref={rsiRef} width={FULL_W} height={RSI_H} style={abs(RSI_TOP, RSI_H)} />
    </div>
  );
}
